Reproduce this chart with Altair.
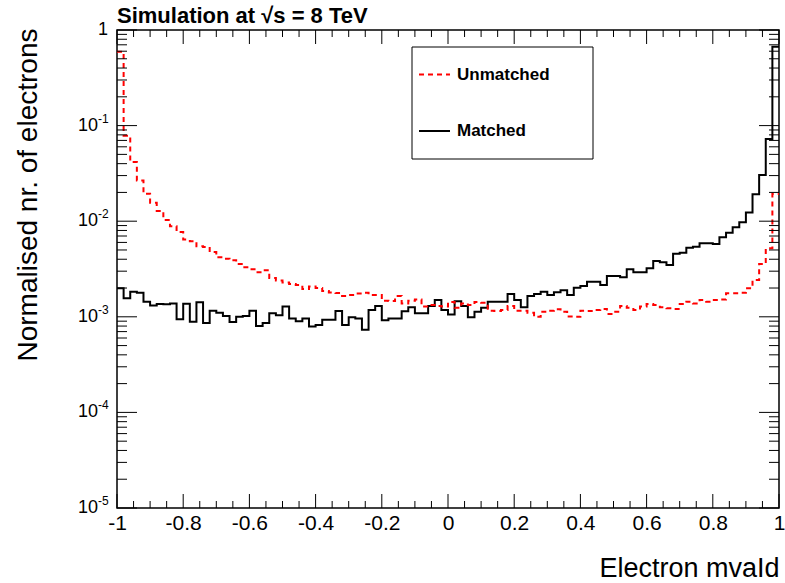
import altair as alt
import pandas as pd

# ---------------- data ----------------
BIN_LO, BIN_HI, BIN_W = -1.0, 1.0, 0.02

matched = [
    0.00199, 0.00156, 0.00183, 0.00179, 0.00144, 0.00131, 0.00136, 0.00135, 0.00138, 0.00094,
    0.00137, 0.00089, 0.00142, 0.00086, 0.00116, 0.00110, 0.00102, 0.00088, 0.00100, 0.00102,
    0.00116, 0.00080, 0.00086, 0.00109, 0.00104, 0.00128, 0.00096, 0.00090, 0.00096, 0.00079,
    0.00082, 0.00093, 0.00093, 0.00115, 0.00082, 0.00099, 0.00096, 0.00073, 0.00118, 0.00130,
    0.00092, 0.00096, 0.00096, 0.00114, 0.00126, 0.00109, 0.00109, 0.00130, 0.00150, 0.00118,
    0.00106, 0.00145, 0.00130, 0.00099, 0.00113, 0.00124, 0.00144, 0.00144, 0.00144, 0.00173,
    0.00150, 0.00126, 0.00165, 0.00173, 0.00183, 0.00169, 0.00181, 0.00190, 0.00169, 0.00201,
    0.00210, 0.00233, 0.00233, 0.00215, 0.00267, 0.00267, 0.00259, 0.00314, 0.00293, 0.00293,
    0.00322, 0.00384, 0.00372, 0.00348, 0.00457, 0.00468, 0.00528, 0.00541, 0.00587, 0.00587,
    0.00578, 0.00679, 0.00759, 0.00864, 0.00975, 0.0123, 0.0191, 0.0304, 0.0724, 0.669,
]

unmatched = [
    0.593, 0.0784, 0.0416, 0.0267, 0.0194, 0.0156, 0.0128, 0.0103, 0.00883, 0.0077,
    0.00643, 0.00618, 0.00546, 0.00537, 0.00476, 0.00419, 0.00405, 0.0039, 0.00357, 0.00329,
    0.00315, 0.00293, 0.00306, 0.00255, 0.0024, 0.00229, 0.0022, 0.00215, 0.00195, 0.00207,
    0.0020, 0.00186, 0.0018, 0.00177, 0.00165, 0.00169, 0.00175, 0.00178, 0.00169, 0.00169,
    0.00147, 0.00146, 0.00165, 0.00138, 0.00147, 0.00152, 0.00128, 0.00133, 0.0013, 0.00128,
    0.00143, 0.00124, 0.00138, 0.00133, 0.00143, 0.0014, 0.00116, 0.00115, 0.00118, 0.0013,
    0.00116, 0.00116, 0.0011, 0.0010, 0.00113, 0.00116, 0.0012, 0.00113, 0.00101, 0.0010,
    0.00116, 0.00115, 0.00118, 0.00121, 0.00107, 0.00113, 0.0013, 0.00124, 0.00118, 0.00128,
    0.00136, 0.00133, 0.00126, 0.00123, 0.00121, 0.00136, 0.00144, 0.00138, 0.0015, 0.00144,
    0.0015, 0.00152, 0.00176, 0.00176, 0.00178, 0.00199, 0.00243, 0.00357, 0.00521, 0.0193,
]

series_names = ["Unmatched", "Matched"]
series_colors = ["#ff0000", "#000000"]

x_major = [-1, -0.8, -0.6, -0.4, -0.2, 0, 0.2, 0.4, 0.6, 0.8, 1]
x_minor = [-0.95, -0.9, -0.85, -0.75, -0.7, -0.65, -0.55, -0.5, -0.45, -0.35, -0.3, -0.25,
           -0.15, -0.1, -0.05, 0.05, 0.1, 0.15, 0.25, 0.3, 0.35, 0.45, 0.5, 0.55,
           0.65, 0.7, 0.75, 0.85, 0.9, 0.95]
y_decades = [1, 0.1, 0.01, 0.001, 0.0001, 0.00001]
y_label_base = ["1", "10", "10", "10", "10", "10"]
y_label_exp = ["", "-1", "-2", "-3", "-4", "-5"]

title_text = "Simulation at \u221as = 8 TeV"
x_title = "Electron mvaId"
y_title = "Normalised nr. of electrons"

# ---------------- tables ----------------
rows = []
for name, vals in (("Matched", matched), ("Unmatched", unmatched)):
    for i, v in enumerate(vals):
        rows.append({"series": name, "x": round(BIN_LO + i * BIN_W, 4), "v": v})
    rows.append({"series": name, "x": BIN_HI, "v": vals[-1]})
hist = pd.DataFrame(rows)

y_minor = [round(k * d, 8) for d in y_decades[1:] for k in range(2, 10)]
ymaj_df = pd.DataFrame({"v": y_decades})
ymin_df = pd.DataFrame({"v": y_minor})
xmaj_df = pd.DataFrame({"x": x_major})
xmin_df = pd.DataFrame({"x": x_minor})
ylab_df = pd.DataFrame({"v": y_decades, "base": y_label_base, "exp": y_label_exp})

W, H = 662, 478
FONT = "Liberation Sans"

xs = alt.Scale(domain=[-1, 1], nice=False, zero=False)
ys = alt.Scale(type="log", domain=[0.00001, 1], nice=False)

x_axis = alt.Axis(
    values=x_major,
    labelExpr="datum.value < 0 ? '-' + format(-datum.value, '~g') : format(datum.value, '~g')",
    labelFontSize=21, labelPadding=4, labelFlush=False, labelOverlap=False,
    labelColor="black", ticks=False, domain=False, grid=False,
    title=x_title, titleFontSize=27, titleFontWeight="normal", titleColor="black",
    titleX=W, titleY=68, titleAlign="right", titleBaseline="alphabetic",
)
y_axis = alt.Axis(
    labels=False, ticks=False, domain=False, grid=False,
    title=y_title, titleFontSize=28, titleFontWeight="normal", titleColor="black",
    titleAngle=270, titleX=-103, titleY=-2, titleAlign="right", titleBaseline="top",
)

X = alt.X("x:Q", scale=xs, axis=x_axis)
Y = alt.Y("v:Q", scale=ys, axis=y_axis)

matched_line = alt.Chart(hist).transform_filter(alt.datum.series == "Matched").mark_line(
    interpolate="step-after", color=series_colors[1], strokeWidth=2, clip=True
).encode(x=X, y=Y)

unmatched_line = alt.Chart(hist).transform_filter(alt.datum.series == "Unmatched").mark_line(
    interpolate="step-after", color=series_colors[0], strokeWidth=2, strokeDash=[5, 4], clip=True
).encode(x=X, y=Y)

tick_style = dict(color="black", strokeWidth=1)
y_ticks = alt.layer(
    alt.Chart(ymaj_df).mark_rule(**tick_style).encode(y=Y, x=alt.value(0), x2=alt.value(20)),
    alt.Chart(ymaj_df).mark_rule(**tick_style).encode(y=Y, x=alt.value(W - 20), x2=alt.value(W)),
    alt.Chart(ymin_df).mark_rule(**tick_style).encode(y=Y, x=alt.value(0), x2=alt.value(10)),
    alt.Chart(ymin_df).mark_rule(**tick_style).encode(y=Y, x=alt.value(W - 10), x2=alt.value(W)),
)
x_ticks = alt.layer(
    alt.Chart(xmaj_df).mark_rule(**tick_style).encode(x=X, y=alt.value(H - 14), y2=alt.value(H)),
    alt.Chart(xmaj_df).mark_rule(**tick_style).encode(x=X, y=alt.value(0), y2=alt.value(14)),
    alt.Chart(xmin_df).mark_rule(**tick_style).encode(x=X, y=alt.value(H - 7), y2=alt.value(H)),
    alt.Chart(xmin_df).mark_rule(**tick_style).encode(x=X, y=alt.value(0), y2=alt.value(7)),
)

y_labels = alt.layer(
    alt.Chart(ylab_df).transform_filter(alt.datum.exp == "").mark_text(
        align="right", baseline="middle", fontSize=18, color="black", font=FONT
    ).encode(y=Y, x=alt.value(-9), text="base:N"),
    alt.Chart(ylab_df).transform_filter(alt.datum.exp != "").mark_text(
        align="right", baseline="middle", fontSize=18, color="black", font=FONT
    ).encode(y=Y, x=alt.value(-19), text="base:N"),
    alt.Chart(ylab_df).transform_filter(alt.datum.exp != "").mark_text(
        align="left", baseline="middle", fontSize=12, dy=-7, color="black", font=FONT
    ).encode(y=Y, x=alt.value(-19), text="exp:N"),
)

title_mark = alt.Chart(pd.DataFrame({"t": [title_text]})).mark_text(
    align="left", baseline="alphabetic", fontSize=22, fontWeight="bold", color="black", font=FONT
).encode(x=alt.value(0), y=alt.value(-7), text="t:N")

leg_df = pd.DataFrame({"name": series_names})
legend = alt.layer(
    alt.Chart(leg_df.head(1)).mark_rect(fill="white", stroke="black", strokeWidth=1).encode(
        x=alt.value(295), x2=alt.value(476), y=alt.value(17), y2=alt.value(129)),
    alt.Chart(leg_df.head(1)).mark_rule(color=series_colors[0], strokeWidth=2, strokeDash=[5, 4]).encode(
        x=alt.value(302), x2=alt.value(333), y=alt.value(44.5)),
    alt.Chart(leg_df.tail(1)).mark_rule(color=series_colors[1], strokeWidth=2).encode(
        x=alt.value(302), x2=alt.value(333), y=alt.value(101)),
    alt.Chart(leg_df.head(1)).mark_text(
        align="left", baseline="middle", fontSize=17, fontWeight="bold", color="black", font=FONT
    ).encode(x=alt.value(340), y=alt.value(45), text="name:N"),
    alt.Chart(leg_df.tail(1)).mark_text(
        align="left", baseline="middle", fontSize=17, fontWeight="bold", color="black", font=FONT
    ).encode(x=alt.value(340), y=alt.value(101), text="name:N"),
)

chart = alt.layer(
    matched_line, unmatched_line, y_ticks, x_ticks, y_labels, title_mark, legend
).properties(
    width=W, height=H,
    autosize=alt.AutoSizeParams(type="none"),
    padding={"left": 117, "top": 30, "right": 6, "bottom": 75},
    background="white",
).configure(font=FONT).configure_view(stroke="black", strokeWidth=1.5)

chart.save("out.html", embed_options={"renderer": "svg", "actions": False})
